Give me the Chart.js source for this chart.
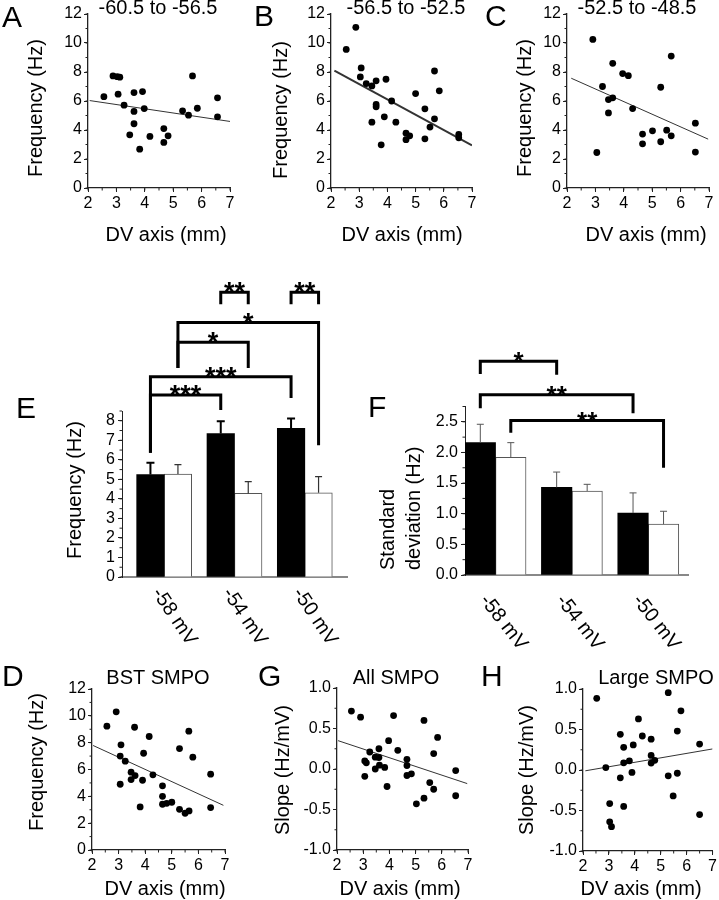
<!DOCTYPE html>
<html>

<head>
    <title>DV axis frequency figure</title>
    <script src="https://cdn.jsdelivr.net/npm/chart.js"></script>
    <style>
        body {
            margin: 0;
            background: white;
        }

        #fig {
            position: relative;
            width: 719px;
            height: 900px;
        }

        #fig canvas {
            position: absolute;
            left: 0;
            top: 0;
        }
    </style>
</head>

<body>
    <div id="fig">
        <canvas id="panelA" width="719" height="900"></canvas>
        <canvas id="panelB" width="719" height="900"></canvas>
        <canvas id="panelC" width="719" height="900"></canvas>
        <canvas id="panelE" width="719" height="900"></canvas>
        <canvas id="panelF" width="719" height="900"></canvas>
        <canvas id="panelD" width="719" height="900"></canvas>
        <canvas id="panelG" width="719" height="900"></canvas>
        <canvas id="panelH" width="719" height="900"></canvas>
    </div>

    <script>
        // --- data ---
        const dvA = [2.56, 2.88, 3.03, 3.12, 3.06, 3.27, 3.62, 3.92, 3.62, 3.98, 3.62, 3.47, 3.82, 4.18, 4.67, 4.82, 4.67, 5.33, 5.54, 5.68, 5.85, 6.56, 6.56];
        const freqA = [6.3, 7.73, 7.68, 7.64, 6.47, 5.71, 6.58, 6.65, 5.28, 5.48, 4.43, 3.67, 2.68, 3.56, 4.1, 3.6, 3.14, 5.32, 5.02, 7.73, 5.5, 6.22, 4.91];
        const fitAx = [2.06, 7.0];
        const fitAy = [6.03, 4.59];

        const dvB = [2.54, 2.88, 3.07, 3.04, 3.25, 3.45, 3.6, 3.95, 3.6, 3.6, 3.45, 3.89, 4.15, 4.3, 3.78, 4.66, 4.66, 4.79, 5.0, 5.33, 5.33, 5.51, 5.67, 5.67, 5.84, 6.53, 6.53];
        const freqB = [9.56, 11.08, 8.28, 7.66, 7.2, 7.04, 7.39, 7.5, 5.76, 5.6, 4.54, 4.91, 6.0, 4.54, 2.98, 3.78, 3.33, 3.6, 6.51, 5.46, 3.39, 4.2, 4.77, 8.07, 6.7, 3.69, 3.46];
        const fitBx = [2.12, 7.0];
        const fitBy = [8.1, 2.94];

        const dvC = [2.91, 3.05, 3.25, 3.61, 3.46, 3.61, 3.46, 3.96, 4.16, 4.31, 4.66, 4.66, 5.01, 5.3, 5.3, 5.51, 5.67, 5.67, 6.52, 6.52];
        const freqC = [10.25, 2.45, 7.0, 8.6, 6.1, 6.22, 5.18, 7.89, 7.75, 5.48, 3.72, 3.05, 3.94, 6.95, 3.19, 3.99, 3.6, 9.1, 4.47, 2.48];
        const fitCx = [2.15, 6.97];
        const fitCy = [7.57, 3.37];

        const dvD = [2.56, 2.91, 3.09, 3.06, 3.25, 3.06, 3.6, 3.47, 3.62, 3.47, 3.9, 3.94, 4.15, 3.81, 4.29, 4.65, 4.65, 4.65, 4.81, 5.0, 5.29, 5.29, 5.5, 5.65, 5.64, 5.79, 6.46, 6.46];
        const freqD = [9.23, 10.3, 7.84, 7.0, 6.62, 4.9, 9.15, 5.8, 5.55, 5.25, 5.2, 7.21, 8.46, 3.21, 5.6, 4.78, 4.0, 3.41, 3.48, 3.56, 7.56, 3.03, 2.74, 2.91, 8.86, 6.92, 5.65, 3.16];
        const fitDx = [2.04, 6.94];
        const fitDy = [7.79, 3.33];

        const dvG = [2.55, 2.9, 3.25, 3.06, 3.12, 3.06, 3.46, 3.6, 3.6, 3.46, 3.62, 3.82, 3.97, 3.91, 4.16, 4.32, 4.67, 4.67, 4.67, 4.84, 5.03, 5.32, 5.32, 5.54, 5.69, 5.69, 5.84, 6.53, 6.53];
        const slopeG = [0.715, 0.64, 0.21, 0.10, 0.076, -0.09, 0.146, 0.142, 0.25, 0.0, 0.047, 0.02, 0.35, -0.216, 0.66, 0.23, 0.12, 0.043, -0.08, -0.06, -0.43, 0.60, -0.36, -0.167, 0.19, -0.25, 0.39, -0.02, -0.33];
        const fitGx = [2.04, 6.97];
        const fitGy = [0.35, -0.18];

        const dvH = [2.53, 2.88, 3.03, 3.03, 3.1, 3.44, 3.44, 3.57, 3.57, 3.57, 3.79, 3.94, 3.89, 4.14, 4.29, 4.63, 4.63, 4.63, 4.77, 5.29, 5.29, 5.48, 5.64, 5.64, 5.78, 6.5, 6.5];
        const slopeH = [0.885, 0.03, -0.415, -0.64, -0.70, 0.44, -0.097, 0.28, 0.088, -0.45, 0.113, 0.31, -0.03, 0.63, 0.42, 0.38, 0.18, 0.085, 0.12, 0.955, -0.072, -0.32, 0.48, -0.04, 0.73, 0.32, -0.55];
        const fitHx = [2.09, 7.0];
        const fitHy = [-0.01, 0.26];

        const levels = ['-58 mV', '-54 mV', '-50 mV'];
        const freqBlack = [5.25, 7.35, 7.61];
        const freqWhite = [5.27, 4.28, 4.31];
        const freqBlackSem = [0.60, 0.63, 0.51];
        const freqWhiteSem = [0.48, 0.60, 0.83];
        const sdBlack = [2.16, 1.43, 1.01];
        const sdWhite = [1.92, 1.37, 0.83];
        const sdBlackSem = [0.30, 0.25, 0.33];
        const sdWhiteSem = [0.24, 0.11, 0.21];

        // significance brackets: [dataset, category] ends, bracket level and leg ends in y units
        const sigE = [
            { from: [0, 0], to: [0, 1], level: 9.32, legs: [6.36, 8.55], label: '***' },
            { from: [0, 0], to: [0, 2], level: 10.26, legs: [6.36, 9.17], label: '***' },
            { from: [1, 0], to: [1, 1], level: 12.02, legs: [10.7, 10.7], label: '*' },
            { from: [1, 0], to: [1, 2], level: 13.03, legs: [10.7, 6.75], label: '*' },
            { from: [0, 1], to: [1, 1], level: 14.58, legs: [13.97, 13.97], label: '**' },
            { from: [0, 2], to: [1, 2], level: 14.58, legs: [13.97, 13.97], label: '**' }
        ];
        const sigF = [
            { from: [0, 0], to: [0, 1], level: 3.49, legs: [3.28, 3.27], label: '*' },
            { from: [0, 0], to: [0, 2], level: 2.94, legs: [2.72, 2.64], label: '**' },
            { from: [1, 0], to: [1, 2], level: 2.52, legs: [2.32, 1.75], label: '**' }
        ];

        // --- drawing helpers ---
        const FAMILY = '"Liberation Sans", Arial, sans-serif';
        const font = (size, bold) => (bold ? 'bold ' : '') + size + 'px ' + FAMILY;
        const YW = 40, XH = 30;

        const decor = {
            id: 'decor',
            afterDraw(chart, args, opts) {
                const ctx = chart.ctx;
                ctx.save();
                (opts.minor || []).forEach(m => {
                    const s = chart.scales[m.axis];
                    ctx.strokeStyle = '#222';
                    ctx.lineWidth = 1;
                    ctx.beginPath();
                    for (let v = s.min; v <= s.max + 1e-9; v += m.step) {
                        const p = s.getPixelForValue(v);
                        if (m.axis === 'x') {
                            ctx.moveTo(p, s.top);
                            ctx.lineTo(p, s.top + m.len);
                        } else {
                            ctx.moveTo(s.right, p);
                            ctx.lineTo(s.right - m.len, p);
                        }
                    }
                    ctx.stroke();
                });
                (opts.texts || []).forEach(t => {
                    ctx.save();
                    ctx.translate(t.x, t.y);
                    if (t.rot) ctx.rotate(t.rot * Math.PI / 180);
                    ctx.font = t.font;
                    ctx.fillStyle = '#000';
                    ctx.textAlign = t.align || 'center';
                    ctx.textBaseline = t.base || 'alphabetic';
                    ctx.fillText(t.text, 0, 0);
                    ctx.restore();
                });
                ctx.restore();
            }
        };

        const barExtras = {
            id: 'barExtras',
            afterDatasetsDraw(chart, args, opts) {
                const ctx = chart.ctx;
                const x = chart.scales.x, y = chart.scales.y;
                ctx.save();
                opts.errors.forEach((sem, di) => {
                    const st = opts.errStyle[di];
                    const meta = chart.getDatasetMeta(di);
                    ctx.strokeStyle = st.color;
                    ctx.lineWidth = st.width;
                    meta.data.forEach((bar, i) => {
                        const top = y.getPixelForValue(chart.data.datasets[di].data[i].y + sem[i]);
                        ctx.beginPath();
                        ctx.moveTo(bar.x, bar.y);
                        ctx.lineTo(bar.x, top);
                        ctx.moveTo(bar.x - st.cap, top);
                        ctx.lineTo(bar.x + st.cap, top);
                        ctx.stroke();
                    });
                });
                ctx.strokeStyle = '#000';
                ctx.lineWidth = 3;
                ctx.lineJoin = 'miter';
                ctx.fillStyle = '#000';
                ctx.font = opts.starFont;
                ctx.textAlign = 'center';
                ctx.textBaseline = 'alphabetic';
                opts.brackets.forEach(b => {
                    const x1 = chart.getDatasetMeta(b.from[0]).data[b.from[1]].x;
                    const x2 = chart.getDatasetMeta(b.to[0]).data[b.to[1]].x;
                    const yl = y.getPixelForValue(b.level);
                    ctx.beginPath();
                    ctx.moveTo(x1, y.getPixelForValue(b.legs[0]));
                    ctx.lineTo(x1, yl);
                    ctx.lineTo(x2, yl);
                    ctx.lineTo(x2, y.getPixelForValue(b.legs[1]));
                    ctx.stroke();
                    ctx.fillText(b.label, (x1 + x2) / 2, yl + opts.starDrop);
                });
                ctx.font = opts.labelFont;
                ctx.textAlign = 'left';
                ctx.textBaseline = 'middle';
                opts.labels.forEach((lab, i) => {
                    ctx.save();
                    ctx.translate(x.getPixelForValue(i) + opts.labelDx, x.top + opts.labelDy);
                    ctx.rotate(opts.labelRot * Math.PI / 180);
                    ctx.fillText(lab, 0, 0);
                    ctx.restore();
                });
                ctx.restore();
            }
        };

        function padFor(area) {
            return { left: area.l - YW, top: area.t, right: 719 - area.r, bottom: 900 - area.b - XH };
        }

        function scatterPanel(id, area, xs, ys, fitX, fitY, fitWidth, yCfg, texts) {
            new Chart(document.getElementById(id), {
                type: 'scatter',
                data: {
                    datasets: [{
                        data: xs.map((v, i) => ({ x: v, y: ys[i] })),
                        pointRadius: 3.4,
                        backgroundColor: '#000',
                        borderWidth: 0
                    }, {
                        data: fitX.map((v, i) => ({ x: v, y: fitY[i] })),
                        showLine: true,
                        pointRadius: 0,
                        borderColor: '#333',
                        borderWidth: fitWidth
                    }]
                },
                options: {
                    responsive: false,
                    animation: false,
                    events: [],
                    layout: { padding: padFor(area) },
                    plugins: {
                        legend: { display: false },
                        tooltip: { enabled: false },
                        decor: {
                            minor: [{ axis: 'x', step: 0.5, len: 2.5 }, { axis: 'y', step: yCfg.minor, len: 2.5 }],
                            texts: texts
                        }
                    },
                    scales: {
                        x: {
                            type: 'linear', min: 2, max: 7,
                            afterFit: s => { s.height = XH; },
                            ticks: { stepSize: 1, autoSkip: false, color: '#000', font: { family: FAMILY, size: 16 }, padding: 2 },
                            grid: { drawOnChartArea: false, tickLength: 4, tickColor: '#222' },
                            border: { color: '#222', width: 1.3 }
                        },
                        y: {
                            min: yCfg.min, max: yCfg.max,
                            afterFit: s => { s.width = YW; },
                            ticks: {
                                stepSize: yCfg.step, autoSkip: false, color: '#000', font: { family: FAMILY, size: 16 }, padding: 2,
                                callback: v => yCfg.dec ? v.toFixed(1) : v
                            },
                            grid: { drawOnChartArea: false, tickLength: 4, tickColor: '#222' },
                            border: { color: '#222', width: 1.3 }
                        }
                    }
                },
                plugins: [decor]
            });
        }

        function scatterTexts(letter, lx, ly, title, tx, ty, yTitle, yx, yy, xx, xy) {
            return [
                { text: letter, x: lx, y: ly, font: font(30), align: 'left' },
                { text: title, x: tx, y: ty, font: font(20) },
                { text: yTitle, x: yx, y: yy, font: font(20), rot: -90, base: 'middle' },
                { text: 'DV axis (mm)', x: xx, y: xy, font: font(20), base: 'middle' }
            ];
        }

        const freqAxis = { min: 0, max: 12, step: 2, minor: 1, dec: false };
        const slopeAxis = { min: -1, max: 1, step: 0.5, minor: 0.25, dec: true };

        scatterPanel('panelA', { l: 88, t: 14, r: 230, b: 188 }, dvA, freqA, fitAx, fitAy, 1, freqAxis,
            scatterTexts('A', 2, 27, '-60.5 to -56.5', 158, 14, 'Frequency (Hz)', 36, 108, 166, 235));
        scatterPanel('panelB', { l: 331, t: 14, r: 472, b: 188 }, dvB, freqB, fitBx, fitBy, 2, freqAxis,
            scatterTexts('B', 254, 26, '-56.5 to -52.5', 406, 14, 'Frequency (Hz)', 281, 110, 402, 235));
        scatterPanel('panelC', { l: 567, t: 14, r: 709, b: 188 }, dvC, freqC, fitCx, fitCy, 1, freqAxis,
            scatterTexts('C', 485, 26, '-52.5 to -48.5', 637, 14, 'Frequency (Hz)', 525, 108, 646, 235));
        scatterPanel('panelD', { l: 92, t: 689, r: 225, b: 850 }, dvD, freqD, fitDx, fitDy, 1, freqAxis,
            scatterTexts('D', 2, 686, 'BST SMPO', 158, 684, 'Frequency (Hz)', 37, 762, 165, 889));
        scatterPanel('panelG', { l: 337, t: 688, r: 468, b: 850 }, dvG, slopeG, fitGx, fitGy, 1, slopeAxis,
            scatterTexts('G', 258, 686, 'All SMPO', 396, 684, 'Slope (Hz/mV)', 283, 770, 400, 889));
        scatterPanel('panelH', { l: 583, t: 689, r: 715, b: 851 }, dvH, slopeH, fitHx, fitHy, 1, slopeAxis,
            scatterTexts('H', 481, 686, 'Large SMPO', 656, 684, 'Slope (Hz/mV)', 527, 770, 641, 889));

        function barPanel(id, area, xr, yCfg, thick, black, white, semBlack, semWhite, extras, texts) {
            new Chart(document.getElementById(id), {
                type: 'bar',
                data: {
                    datasets: [{
                        data: black.map((v, i) => ({ x: i, y: v })),
                        backgroundColor: '#000',
                        borderWidth: 0,
                        barThickness: thick
                    }, {
                        data: white.map((v, i) => ({ x: i, y: v })),
                        backgroundColor: '#fff',
                        borderColor: '#555',
                        borderWidth: 1,
                        borderSkipped: 'bottom',
                        barThickness: thick
                    }]
                },
                options: {
                    responsive: false,
                    animation: false,
                    events: [],
                    layout: { padding: padFor(area) },
                    plugins: {
                        legend: { display: false },
                        tooltip: { enabled: false },
                        decor: { minor: [{ axis: 'y', step: yCfg.minor, len: 2.5 }], texts: texts },
                        barExtras: Object.assign({
                            errors: [semBlack, semWhite],
                            labels: levels,
                            brackets: []
                        }, extras)
                    },
                    scales: {
                        x: {
                            type: 'linear', min: xr[0], max: xr[1], offset: false,
                            afterFit: s => { s.height = XH; },
                            ticks: { display: false, stepSize: 1 },
                            grid: { display: false, offset: false },
                            border: { color: '#888', width: 2 }
                        },
                        y: {
                            min: 0, max: yCfg.max,
                            afterFit: s => { s.width = YW; },
                            ticks: {
                                stepSize: yCfg.step, includeBounds: false, autoSkip: false, color: '#000',
                                font: { family: FAMILY, size: 16 }, padding: 3,
                                callback: v => yCfg.dec ? v.toFixed(1) : v
                            },
                            grid: { drawOnChartArea: false, tickLength: 4, tickColor: '#222' },
                            border: { color: '#222', width: 1 }
                        }
                    }
                },
                plugins: [barExtras, decor]
            });
        }

        barPanel('panelE', { l: 122, t: 411, r: 347, b: 577 }, [-0.6, 2.6],
            { max: 8.5, step: 1, minor: 0.5, dec: false }, 27.5,
            freqBlack, freqWhite, freqBlackSem, freqWhiteSem,
            {
                brackets: sigE,
                errStyle: [{ color: '#000', width: 2, cap: 4 }, { color: '#333', width: 1.2, cap: 3.5 }],
                starFont: font(27, true), starDrop: 9,
                labelFont: font(20), labelRot: 56, labelDx: -8, labelDy: 13
            },
            [
                { text: 'E', x: 16, y: 418, font: font(30), align: 'left' },
                { text: 'Frequency (Hz)', x: 75, y: 490, font: font(20), rot: -90, base: 'middle' }
            ]);

        barPanel('panelF', { l: 465, t: 406.5, r: 688, b: 575 }, [-0.4, 2.52],
            { max: 2.75, step: 0.5, minor: 0.25, dec: true }, 30.5,
            sdBlack, sdWhite, sdBlackSem, sdWhiteSem,
            {
                brackets: sigF,
                errStyle: [{ color: '#555', width: 1, cap: 3.5 }, { color: '#555', width: 1, cap: 3.5 }],
                starFont: font(26, true), starDrop: 9,
                labelFont: font(20), labelRot: 52, labelDx: -12, labelDy: 22
            },
            [
                { text: 'F', x: 368, y: 417, font: font(30), align: 'left' },
                { text: 'Standard', x: 388.5, y: 570, font: font(20), rot: -90, base: 'middle', align: 'left' },
                { text: 'deviation (Hz)', x: 414, y: 570, font: font(20), rot: -90, base: 'middle', align: 'left' }
            ]);
    </script>
</body>

</html>
